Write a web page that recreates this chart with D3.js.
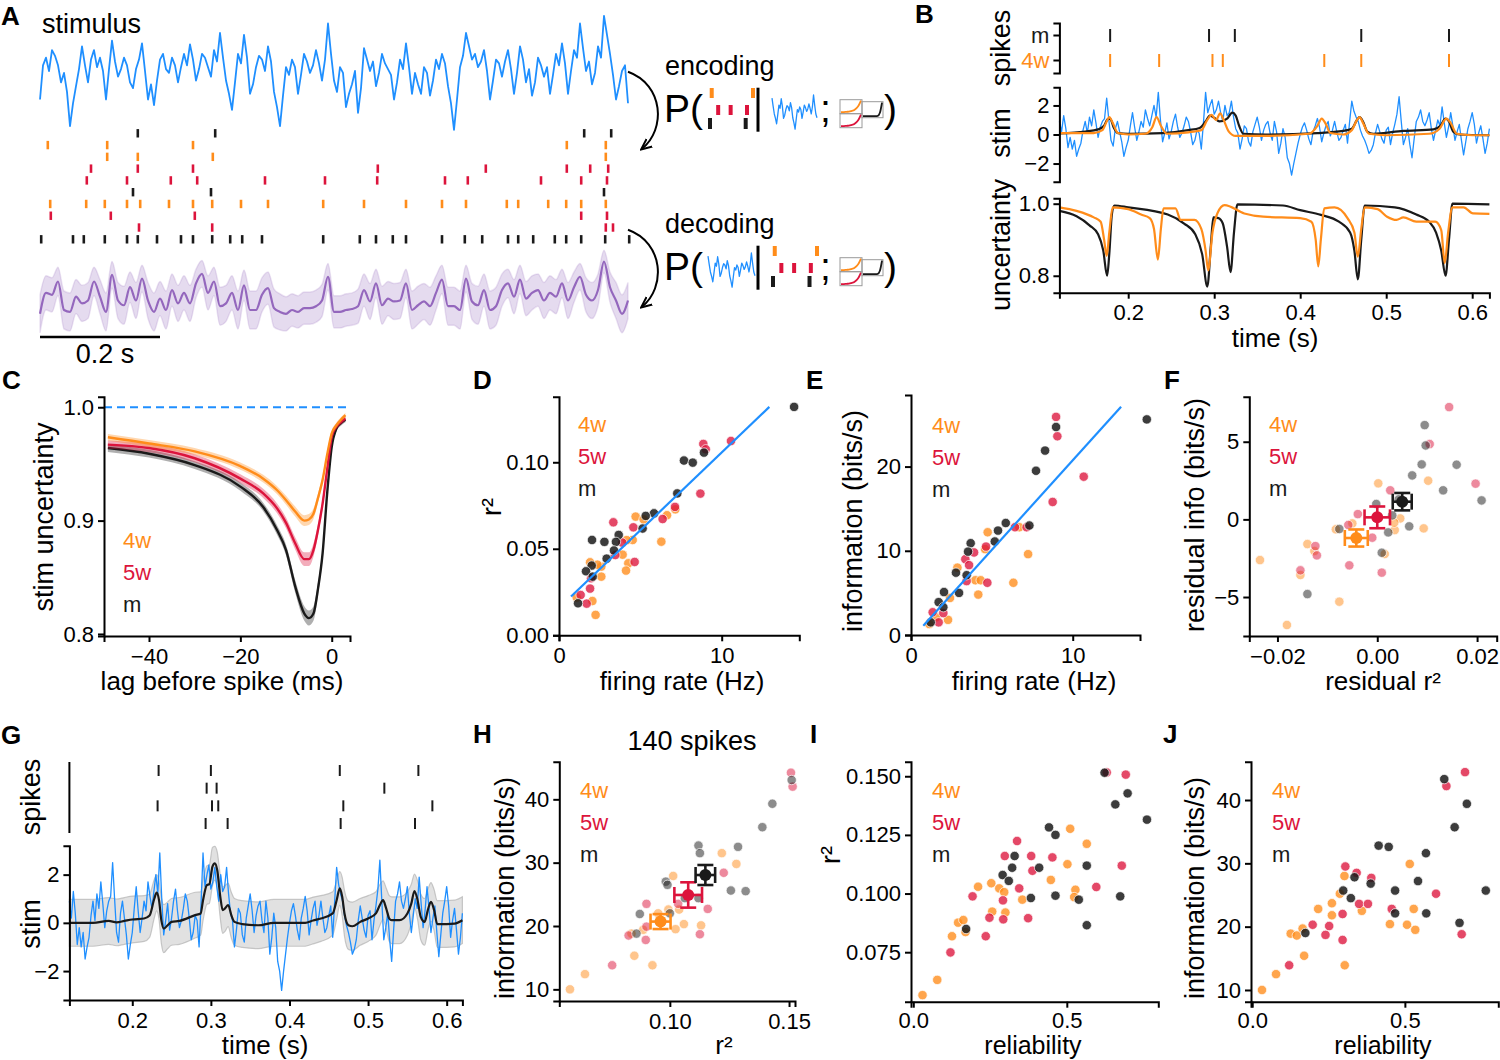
<!DOCTYPE html>
<html>
<head>
<meta charset="utf-8">
<script src="https://cdn.jsdelivr.net/npm/d3@7"></script>
<style>
  body { margin: 0; background: #fff; }
</style>
</head>
<body>
<script>
// ---------------- data ----------------

// A: stimulus, 5 ms steps from t = 0
const aStim = [
  -1.2, 0.6, 1.0, 0.3, 1.4, 1.1, 0.6, -0.3, 0.2, -0.8,
  -2.6, -1.4, -0.5, 0.4, 1.6, 0.6, -0.3, 0.9, 1.4, 0.5,
  1.0, 0.3, -1.2, 0.4, 1.9, 0.8, 0.0, 0.4, 1.0, 0.6,
  -0.3, -0.6, 0.4, 0.9, 1.75, 0.3, -1.2, -0.4, -1.5, -0.2,
  0.9, 1.2, 0.4, 0.2, 1.0, 0.6, -0.3, 0.5, 1.2, 0.6,
  1.7, 0.9, -0.2, 0.4, 1.2, 1.0, 0.5, 0.0, 1.4, 0.8,
  2.3, 1.0, -0.2, -0.9, -1.75, -0.3, 1.2, 0.7, 2.2, 1.0,
  -0.9, -0.4, 0.5, 1.1, 0.9, 0.3, 1.6, 0.8, -0.8, -1.6,
  -2.6, -1.0, 0.5, 0.1, 0.9, 0.5, -0.9, 0.1, 1.2, 0.8,
  0.2, 0.6, 1.4, 0.7, -0.2, 0.9, 2.8, 1.2, -0.2, -0.8,
  0.5, 0.2, -1.6, -0.9, -0.4, 0.3, -1.9, -0.6, 1.5, 0.9,
  0.3, 0.8, -0.5, 0.2, 1.2, 0.7, 0.4, 0.1, -1.2, -0.3,
  0.9, 0.4, 1.75, 0.5, -0.9, 0.2, -0.4, -0.9, 0.5, 0.2,
  -1.0, -0.2, 0.9, 0.4, 1.2, 0.7, -0.5, -1.4, -2.8, -1.2,
  0.5, 1.1, 2.3, 1.6, 0.9, 1.2, 0.5, 0.8, 1.4, 0.3,
  -1.2, -0.2, 0.9, 0.7, 0.0, 0.8, 1.4, 0.4, -0.9, 0.2,
  1.6, 0.9, -0.3, 0.4, -1.0, -0.3, 1.0, 0.6, 0.0, 0.5,
  -0.9, 0.1, 1.2, 0.6, 1.75, 0.7, -0.9, 0.3, 1.4, 1.0,
  2.8, 1.5, 0.3, 0.8, -0.4, 0.2, 1.6, 1.0, 3.2, 2.2,
  1.2, 0.1, -1.2, -0.5, 0.3, 0.6, -1.4
];
// A: decoded stimulus (mean, sd), 10 ms steps
const aDecode = [
  -0.2, 0.9, 0.8, 1.5, 0.0, -0.1, 0.7, 0.35, 0.5, 1.5,
  0.7, -0.1, 1.85, 0.5, 0.25, 1.2, 0.5, 1.65, 0.5, -0.1,
  0.6, 0.0, 1.05, 0.35, 0.9, 0.35, 1.4, 1.9, 0.9, 1.5,
  0.2, 0.35, 0.9, 0.0, 1.3, 0.0, 0.0, 0.8, 1.15, 0.1,
  -0.1, -0.2, 0.0, -0.1, 0.1, 0.1, 0.2, 0.5, 1.75, -0.1,
  -0.1, 0.0, 0.05, 0.2, 1.05, 0.45, 1.4, 0.25, 0.6, 0.45,
  0.5, 1.4, 0.0, 0.25, 0.45, 0.2, 0.9, 1.6, 0.2, 0.2,
  0.0, 1.65, 0.45, 0.25, 1.05, 0.0, 0.2, 1.05, 1.4, 0.7,
  1.6, 0.6, 0.9, 1.05, 0.5, 0.9, 0.7, 1.4, 0.5, 1.2,
  1.75, 0.8, 0.5, 1.05, 2.55, 1.2, 0.5, -0.2, 0.5
];
const aDecodeSd = [
  1.0, 0.9, 0.9, 0.75, 1.0, 1.0, 0.9, 0.95, 0.95, 0.75,
  0.9, 1.0, 0.7, 0.95, 1.0, 0.8, 0.95, 0.7, 0.95, 1.0,
  0.9, 1.0, 0.85, 0.95, 0.9, 0.95, 0.75, 0.7, 0.9, 0.75,
  1.0, 0.95, 0.9, 1.0, 0.8, 1.0, 1.0, 0.9, 0.85, 1.0,
  0.95, 0.9, 0.85, 0.85, 0.85, 0.85, 0.85, 0.85, 0.7, 0.85,
  0.85, 0.85, 0.85, 0.9, 0.85, 0.95, 0.75, 1.0, 0.9, 0.95,
  0.95, 0.75, 1.0, 1.0, 0.95, 1.0, 0.9, 0.75, 1.0, 1.0,
  1.0, 0.7, 0.95, 1.0, 0.85, 1.0, 1.0, 0.85, 0.75, 0.9,
  0.75, 0.9, 0.9, 0.85, 0.95, 0.9, 0.9, 0.75, 0.95, 0.8,
  0.7, 0.9, 0.95, 0.85, 0.6, 0.8, 0.95, 1.0, 0.95
];
// A: spike raster, one row per cell (seconds)
const aRowGroup = ["m", "4w", "4w", "5w", "5w", "m", "4w", "5w", "5w", "m"];
const aSpikes = [
  [0.163, 0.292, 0.907, 0.952],
  [0.013, 0.112, 0.255, 0.878, 0.943],
  [0.112, 0.163, 0.288, 0.943],
  [0.085, 0.163, 0.255, 0.563, 0.743, 0.878, 0.917, 0.947],
  [0.078, 0.145, 0.218, 0.262, 0.375, 0.475, 0.562, 0.675, 0.713, 0.835, 0.902, 0.945],
  [0.155, 0.285, 0.940],
  [0.017, 0.077, 0.108, 0.145, 0.167, 0.215, 0.255, 0.287, 0.335, 0.380, 0.472, 0.540, 0.610, 0.670, 0.710, 0.778, 0.797, 0.847, 0.877, 0.902, 0.943],
  [0.018, 0.118, 0.258, 0.902, 0.945],
  [0.165, 0.287, 0.943, 0.955],
  [0.002, 0.055, 0.073, 0.108, 0.145, 0.163, 0.195, 0.235, 0.255, 0.287, 0.317, 0.337, 0.370, 0.472, 0.533, 0.560, 0.588, 0.610, 0.670, 0.708, 0.737, 0.780, 0.797, 0.822, 0.858, 0.877, 0.902, 0.942, 0.982]
];
// schematic icons
const iconRaster = [[0.04, 1.0], [0.19, 0.48, 0.86], [0.0, 0.83]];
const iconRowGroup = ["4w", "5w", "m"];
const iconKernel = [0, 0.01, 0.02, 0.04, 0.07, 0.12, 0.2, 0.35, 0.6, 1];
const iconKernelM = [0, 0, 0, 0, 0, 0, 0, 0.02, 0.25, 1];

// B & G: stimulus, 2.5 ms steps from t = 0.12 s
const bgStim = [
  0.9, 0.2, 1.3, 0.4, -0.9, -0.2, -1.0, -0.4, -1.5, -1.0,
  -0.6, 0.3, 0.9, 0.1, 1.2, 0.6, 1.7, 0.8, -0.2, 0.5,
  0.9, 1.1, 2.5, 1.0, -0.4, -0.8, 0.4, 0.9, 0.2, -0.5,
  -1.5, -0.9, -0.4, 0.6, 1.5, 0.5, -0.4, 0.2, 0.9, 0.5,
  1.7, 1.1, 0.6, 1.3, 2.0, 1.2, 2.9, 1.0, -0.5, 0.1,
  0.8, -0.3, 0.2, 0.9, 1.4, 0.5, -0.2, 0.1, 0.6, 1.2,
  0.9, 0.2, -0.7, -0.4, 0.3, 0.1, -1.0, 0.8, 2.9, 1.5,
  2.0, 2.4, 1.4, 1.7, 2.3, 1.5, 0.9, 2.0, 1.3, 1.5,
  2.3, 1.2, 0.4, 0.1, -1.0, -0.3, 0.6, 0.4, -0.5, -0.8,
  0.2, 0.7, 1.2, 0.5, -0.4, 0.3, 0.7, 0.9, 0.1, -0.4,
  0.9, 0.2, -1.3, -0.6, 0.4, -0.2, -1.6, -2.0, -2.8, -2.0,
  -1.3, -0.6, 0.0, 0.5, 0.8, 0.3, -0.3, -0.7, 0.2, 0.6,
  1.1, 0.5, -0.5, 0.1, 0.6, 0.9, -0.1, 0.3, 0.9, 0.2,
  -0.4, -0.2, 0.3, 0.7, -0.6, 0.9, 2.3, 1.6, 1.2, 0.9,
  0.3, -0.1, -0.4, -0.8, -1.3, -1.1, -0.7, 0.1, 0.7, 0.2,
  -0.3, -0.6, 0.3, 0.5, -0.7, 0.1, 0.7, 1.4, 2.6, 0.9,
  -0.7, -0.2, 0.4, -0.7, -1.6, -0.3, 0.9, 1.2, 1.7, 0.9,
  0.6, 1.0, 1.5, 0.4, -0.4, 0.3, 1.0, 0.6, 1.9, 0.8,
  -0.2, 0.5, 1.5, 0.6, -0.4, 0.2, 0.7, -0.4, -1.4, -0.5,
  0.4, 0.9, 1.5, 0.7, -0.6, 0.1, 0.6, -0.3, -1.3, -0.6,
  0.4
];

// B
const bSpikesM = [0.179, 0.294, 0.324, 0.471, 0.573];
const bSpikes4w = [0.179, 0.236, 0.298, 0.310, 0.428, 0.471, 0.573];
const bDecM = [[0.12,0.08],[0.15,0.2],[0.165,0.35],[0.172,0.6],[0.176,1.05],[0.179,1.1],[0.183,0.5],[0.188,0.1],[0.2,0.05],[0.24,0.1],[0.27,0.3],[0.283,0.45],[0.29,0.9],[0.295,1.3],[0.3,1.15],[0.306,0.9],[0.315,1.1],[0.321,1.5],[0.325,1.3],[0.329,0.6],[0.334,0.05],[0.36,0.0],[0.42,0.1],[0.45,0.25],[0.46,0.4],[0.466,1.0],[0.469,1.2],[0.473,0.9],[0.478,0.2],[0.485,0.05],[0.52,0.25],[0.555,0.35],[0.563,0.6],[0.569,1.1],[0.573,0.9],[0.578,0.2],[0.585,0.0],[0.62,-0.05]];
const bDec4w = [[0.12,0.1],[0.16,0.1],[0.17,0.3],[0.175,0.9],[0.178,1.2],[0.182,0.8],[0.188,0.1],[0.2,0.0],[0.22,0.05],[0.228,0.5],[0.233,1.2],[0.238,0.6],[0.245,0.05],[0.27,0.15],[0.285,0.3],[0.292,1.0],[0.297,1.35],[0.302,1.0],[0.307,1.45],[0.311,1.0],[0.317,0.2],[0.325,-0.1],[0.36,-0.1],[0.41,0.05],[0.42,0.6],[0.425,1.1],[0.43,0.7],[0.435,0.1],[0.45,0.0],[0.46,0.3],[0.466,1.0],[0.469,1.2],[0.473,0.8],[0.48,0.05],[0.5,-0.05],[0.55,0.05],[0.562,0.4],[0.57,1.1],[0.575,0.8],[0.582,0.05],[0.6,-0.05],[0.62,-0.05]];
const bUncM = [[0.12,0.98],[0.14,0.965],[0.155,0.94],[0.165,0.915],[0.171,0.87],[0.1755,0.80],[0.178,0.86],[0.181,0.97],[0.184,0.995],[0.2,0.99],[0.246,0.97],[0.265,0.945],[0.278,0.915],[0.286,0.86],[0.292,0.77],[0.296,0.88],[0.299,0.962],[0.305,0.96],[0.31,0.945],[0.315,0.88],[0.319,0.81],[0.323,0.92],[0.327,0.998],[0.38,0.995],[0.40,0.982],[0.424,0.969],[0.445,0.95],[0.458,0.92],[0.463,0.87],[0.467,0.79],[0.471,0.9],[0.475,0.995],[0.51,0.99],[0.535,0.97],[0.55,0.95],[0.558,0.92],[0.564,0.87],[0.569,0.80],[0.573,0.9],[0.577,1.0],[0.62,0.998]];
const bUnc4w = [[0.12,0.99],[0.14,0.98],[0.16,0.962],[0.168,0.95],[0.172,0.9],[0.175,0.855],[0.178,0.92],[0.182,0.99],[0.2,0.985],[0.215,0.97],[0.225,0.96],[0.23,0.93],[0.2345,0.845],[0.238,0.93],[0.241,0.987],[0.255,0.987],[0.261,0.955],[0.277,0.955],[0.285,0.93],[0.29,0.87],[0.293,0.815],[0.298,0.92],[0.304,0.975],[0.312,0.996],[0.335,0.973],[0.357,0.964],[0.4,0.96],[0.413,0.95],[0.418,0.9],[0.421,0.826],[0.424,0.9],[0.428,0.987],[0.44,0.99],[0.455,0.96],[0.463,0.92],[0.467,0.853],[0.471,0.93],[0.475,0.99],[0.49,0.985],[0.501,0.964],[0.512,0.955],[0.52,0.962],[0.535,0.95],[0.557,0.95],[0.564,0.927],[0.568,0.835],[0.572,0.92],[0.577,0.99],[0.59,0.99],[0.601,0.973],[0.62,0.972]];

// C: stimulus uncertainty vs lag
const cLag = [-49, -40, -30, -20, -15, -12, -10, -8, -6, -5, -4, -3, -2, -1, 0, 1, 2, 3];
const cUnc4w = [0.9735, 0.968, 0.961, 0.948, 0.937, 0.927, 0.918, 0.908, 0.900, 0.901, 0.906, 0.92, 0.936, 0.958, 0.977, 0.984, 0.989, 0.993];
const cUnc5w = [0.967, 0.964, 0.955, 0.937, 0.924, 0.911, 0.898, 0.88, 0.866, 0.866, 0.874, 0.892, 0.915, 0.945, 0.974, 0.983, 0.987, 0.99];
const cUncM = [0.964, 0.959, 0.949, 0.93, 0.912, 0.892, 0.874, 0.842, 0.818, 0.814, 0.818, 0.84, 0.871, 0.924, 0.965, 0.981, 0.986, 0.989];
const cSem4w = [0.0015, 0.0015, 0.0015, 0.0016, 0.0017, 0.0018, 0.002, 0.0022, 0.0024, 0.0024, 0.0023, 0.002, 0.0018, 0.0015, 0.0013, 0.0012, 0.0011, 0.001];
const cSem5w = [0.0018, 0.0018, 0.0018, 0.0019, 0.002, 0.0022, 0.0024, 0.0027, 0.003, 0.003, 0.0029, 0.0026, 0.0022, 0.0018, 0.0015, 0.0013, 0.0012, 0.0011];
const cSemM = [0.0017, 0.0017, 0.0017, 0.0018, 0.0019, 0.0021, 0.0024, 0.0028, 0.0032, 0.0033, 0.0032, 0.0028, 0.0023, 0.0018, 0.0015, 0.0013, 0.0012, 0.0011];

// D: firing rate vs r2
const d4w = [[4.71,0.0686],[5.2,0.067],[6.64,0.0694],[7.15,0.0728],[6.29,0.0541],[4.53,0.0551],[4.16,0.055],[3.91,0.0466],[4.26,0.0416],[4.12,0.0374],[2.6,0.0397],[2.36,0.0408],[1.91,0.0422],[2.6,0.0339],[2.05,0.0198],[2.25,0.0118],[1.09,0.0218]];
const d5w = [[8.87,0.1106],[9.02,0.1075],[10.57,0.1123],[8.69,0.0819],[7.13,0.0742],[6.37,0.0672],[4.57,0.0624],[3.34,0.0653],[3.89,0.0536],[4.65,0.0424],[1.97,0.033],[1.91,0.027],[1.33,0.0233],[1.7,0.0183],[3.46,0.0464]];
const dM = [[14.45,0.132],[7.68,0.101],[8.22,0.0998],[8.91,0.1056],[7.27,0.082],[5.84,0.0705],[5.33,0.069],[5.14,0.0617],[3.67,0.058],[3.5,0.054],[3.38,0.049],[2.79,0.054],[2.93,0.0443],[2.03,0.0551],[2.01,0.0403],[1.66,0.037],[1.17,0.0185],[2.07,0.0339]];
const dFit = [[0.74,0.0224],[12.93,0.132]];

// E: firing rate vs information
const e4w = [[4.74,12.2],[6.7,12.8],[7.24,9.6],[4.58,10.2],[2.87,8.0],[3.98,6.5],[4.31,6.5],[6.33,6.2],[4.16,4.8],[2.41,4.4],[2.29,1.8],[1.55,2.1],[1.13,1.3]];
const e5w = [[8.97,25.9],[9.05,23.6],[10.68,18.8],[8.76,15.8],[7.15,12.8],[6.43,12.8],[4.64,10.5],[3.9,9.8],[3.36,9.0],[3.59,8.3],[3.44,6.4],[4.72,6.2],[1.34,2.7],[2.0,2.6],[1.71,1.5]];
const eM = [[14.58,25.6],[8.97,24.7],[8.29,21.9],[7.73,19.5],[7.32,13.0],[5.86,13.3],[5.38,12.4],[5.18,11.1],[3.69,10.9],[3.53,9.9],[2.78,7.4],[3.44,7.1],[2.97,5.0],[2.04,5.1],[1.71,3.9],[2.0,3.3],[1.22,1.5]];
const eFit = [[0.76,1.1],[12.99,27.1]];

// F: residuals
const f4w = [[0.0002,2.32],[0.0102,2.49],[0.0093,-0.58],[0.0035,-0.69],[0.0046,0.06],[0.0034,-0.21],[-0.0083,-0.64],[-0.005,-0.26],[-0.014,-1.59],[-0.0126,-2.04],[0.0015,-2.23],[-0.0235,-2.62],[-0.0154,-3.58],[-0.0076,-5.3],[-0.0181,-6.8]];
const f5w = [[0.0144,7.23],[0.0105,4.85],[0.0197,2.3],[0.0026,1.87],[-0.0039,0.34],[-0.0058,-0.36],[-0.001,-1.18],[-0.0124,-1.72],[-0.0121,-2.32],[-0.0056,-2.96],[0.0009,-3.43],[-0.0154,-3.28]];
const fM = [[0.0095,6.07],[0.0097,4.76],[0.0089,3.54],[0.0159,3.52],[0.007,2.83],[0.0132,1.87],[0.0209,1.22],[0.0043,1.29],[-0.0002,0.99],[0.0022,-0.84],[0.0064,-0.45],[0.003,0.26],[0.0009,-2.15],[-0.0076,-0.62],[-0.014,-4.81]];
// group, mean x, mean y, err x, err y
const fMeans = [["4w",-0.0042,-1.2,0.0023,0.55],["5w",0.0,0.13,0.00255,0.7],["m",0.005,1.14,0.0019,0.56]];

// G: population decoding
const gSpikes = [[0.2335,0.300,0.464,0.564],[0.2946,0.3073,0.5207],[0.2322,0.3014,0.3094,0.4685,0.5818],[0.2933,0.3213,0.4651,0.5597]];
const gDecT = [0.12,0.15,0.17,0.18,0.19,0.2,0.215,0.222,0.228,0.231,0.234,0.237,0.24,0.245,0.25,0.26,0.28,0.287,0.29,0.295,0.298,0.302,0.305,0.308,0.312,0.315,0.318,0.322,0.326,0.33,0.34,0.36,0.38,0.4,0.42,0.43,0.44,0.455,0.46,0.464,0.467,0.47,0.475,0.48,0.49,0.5,0.51,0.515,0.519,0.523,0.527,0.53,0.54,0.55,0.555,0.559,0.563,0.567,0.572,0.576,0.58,0.584,0.588,0.6,0.61,0.62];
const gDecV = [0.0,0.0,0.08,0.02,0.08,0.14,0.18,0.3,1.0,1.25,0.94,0.1,-0.24,-0.1,0.04,0.08,0.32,0.39,0.94,1.57,1.6,2.33,2.47,2.2,1.08,0.53,0.6,0.74,0.32,0.04,-0.05,-0.1,0.0,0.0,0.0,0.1,0.18,0.39,0.94,1.43,1.1,0.39,-0.1,-0.14,0.04,0.18,0.39,0.74,0.94,0.6,0.18,0.11,0.11,0.39,0.8,1.32,0.94,0.25,0.04,0.53,0.87,0.53,-0.05,-0.05,-0.03,0.11];
const gDecSd = [0.97,0.97,0.97,0.97,0.97,0.97,0.95,0.9,0.8,0.75,0.8,0.95,1.0,0.97,0.97,0.97,0.95,0.9,0.85,0.8,0.8,0.8,0.7,0.75,0.9,0.97,0.95,0.9,0.95,0.97,0.97,0.97,0.97,0.97,0.97,0.97,0.95,0.9,0.8,0.7,0.8,0.95,1.0,1.0,0.97,0.95,0.9,0.85,0.8,0.85,0.95,0.97,0.97,0.9,0.8,0.7,0.8,0.95,0.97,0.85,0.8,0.85,0.97,0.97,0.97,0.97];

// H: 140 spikes, r2 vs information
const h4w = [[0.1218,31.5],[0.1279,29.8],[0.1014,27.9],[0.0994,22.6],[0.1039,22.6],[0.1059,20.3],[0.1131,20.1],[0.1024,19.5],[0.0888,19.4],[0.0839,18.8],[0.0851,15.3],[0.0927,13.8],[0.0644,12.4],[0.0581,10.0],[0.0951,22.0]];
const h5w = [[0.1508,44.2],[0.1515,42.0],[0.1226,28.4],[0.1159,22.7],[0.1126,18.7],[0.0902,23.5],[0.0902,19.9],[0.0899,17.8],[0.0827,18.5],[0.0758,13.8],[0.1035,23.5]];
const hM = [[0.1511,43.05],[0.143,39.3],[0.1388,35.6],[0.1286,32.5],[0.112,32.7],[0.1126,31.5],[0.0983,27.0],[0.099,26.5],[0.1,22.0],[0.0874,21.9],[0.086,18.8],[0.1256,25.6],[0.1318,25.5],[0.112,24.4],[0.1063,24.4]];
const hMeans = [["4w",0.0961,20.7,0.0042,1.18],["5w",0.1077,24.9,0.0058,2.0],["m",0.1149,28.05,0.0041,1.58]];

// I: reliability vs r2
const i4w = [[0.511,0.1276],[0.502,0.1125],[0.565,0.1212],[0.448,0.1058],[0.528,0.1016],[0.524,0.0985],[0.211,0.1029],[0.254,0.1044],[0.28,0.1022],[0.296,0.1006],[0.355,0.0974],[0.257,0.0923],[0.3,0.0919],[0.146,0.0876],[0.163,0.0887],[0.17,0.0836],[0.126,0.0818],[0.078,0.0632],[0.03,0.0567]];
const i5w = [[0.63,0.1516],[0.692,0.1507],[0.679,0.1119],[0.596,0.1028],[0.453,0.1154],[0.384,0.116],[0.388,0.1097],[0.338,0.1224],[0.298,0.116],[0.345,0.1022],[0.292,0.0971],[0.293,0.089],[0.374,0.0895],[0.248,0.0897],[0.236,0.0818],[0.193,0.0988],[0.121,0.0749]];
const iM = [[0.623,0.1515],[0.658,0.138],[0.698,0.1427],[0.761,0.1315],[0.442,0.1282],[0.463,0.125],[0.565,0.1119],[0.41,0.111],[0.322,0.111],[0.33,0.116],[0.291,0.1079],[0.311,0.1054],[0.383,0.0981],[0.463,0.0991],[0.539,0.0974],[0.565,0.0865],[0.674,0.0988],[0.172,0.0849]];

// J: reliability vs information
const j4w = [[0.302,28.0],[0.516,29.9],[0.287,25.2],[0.261,23.7],[0.216,22.8],[0.261,21.8],[0.359,22.5],[0.529,22.8],[0.451,20.4],[0.507,20.3],[0.534,19.5],[0.126,18.9],[0.146,18.6],[0.165,19.7],[0.17,15.4],[0.303,13.9],[0.078,12.5],[0.032,10.0]];
const j5w = [[0.697,44.4],[0.636,42.2],[0.305,29.5],[0.342,28.5],[0.39,27.7],[0.35,23.6],[0.379,23.6],[0.296,22.0],[0.457,22.8],[0.602,25.2],[0.198,20.3],[0.252,20.1],[0.24,18.7],[0.296,17.9],[0.686,18.8],[0.121,13.9]];
const jM = [[0.629,43.3],[0.703,39.4],[0.663,35.7],[0.414,32.8],[0.447,32.6],[0.569,31.6],[0.543,27.2],[0.335,27.8],[0.388,26.8],[0.298,25.7],[0.468,25.7],[0.765,25.7],[0.323,24.5],[0.468,22.1],[0.57,22.1],[0.679,20.6],[0.174,19.0]];

// ---------------- drawing ----------------
const FONT = "'Liberation Sans', Arial, Helvetica, sans-serif";
const C4 = "#ff8c1a", C5 = "#dc143c", CM = "#1a1a1a", BLUE = "#1f8fff", PURPLE = "#9467bd";
const groupColor = {"4w": C4, "5w": C5, "m": CM};
const groups = ["4w", "5w", "m"];

const svg = d3.select("body").append("svg")
  .attr("width", 1500).attr("height", 1060)
  .style("background", "#fff");

svg.append("defs").append("marker")
  .attr("id", "arr").attr("viewBox", "0 0 10 10")
  .attr("refX", 8).attr("refY", 5)
  .attr("markerUnits", "userSpaceOnUse")
  .attr("markerWidth", 12).attr("markerHeight", 12)
  .attr("orient", "auto")
  .append("path").attr("d", "M0,1 L9,5 L0,9")
  .attr("fill", "none").attr("stroke", "#000").attr("stroke-width", 1.6);

function txt(x, y, s, size, o = {}) {
  const t = svg.append("text").attr("x", x).attr("y", y).text(s)
    .attr("font-size", size).attr("font-family", FONT).attr("fill", o.fill || "#000");
  if (o.anchor) t.attr("text-anchor", o.anchor);
  if (o.weight) t.attr("font-weight", o.weight);
  if (o.rot) t.attr("transform", `rotate(-90,${x},${y})`).attr("dominant-baseline", "central");
  return t;
}
function letter(x, y, s) { txt(x, y, s, 26, {weight: "bold"}); }
function ylabel(x, y, s) { txt(x, y, s, 27, {anchor: "middle", rot: true}); }
function xlabel(x, y, s, size = 26) { txt(x, y, s, size, {anchor: "middle"}); }

function styleAxis(g) {
  g.attr("font-size", 22).attr("font-family", FONT);
  g.select(".domain").attr("stroke-width", 2).attr("stroke", "#000");
  g.selectAll(".tick line").attr("stroke-width", 2).attr("stroke", "#000");
  g.selectAll(".tick text").attr("fill", "#000");
  return g;
}
function yAxis(x, scale, ticks, fmt) {
  const g = svg.append("g").attr("transform", `translate(${x},0)`)
    .call(d3.axisLeft(scale).tickValues(ticks).tickFormat(fmt).tickSizeOuter(0).tickSize(6).tickPadding(4));
  return styleAxis(g);
}
function xAxis(y, scale, ticks, fmt, pad = 6) {
  const g = svg.append("g").attr("transform", `translate(0,${y})`)
    .call(d3.axisBottom(scale).tickValues(ticks).tickFormat(fmt).tickSizeOuter(0).tickSize(6).tickPadding(pad));
  return styleAxis(g);
}
function legend(x, y0) {
  groups.forEach((k, i) => txt(x, y0 + i * 32, k, 22, {fill: groupColor[k]}));
}
function dots(xs, ys, data, color, op) {
  svg.append("g").selectAll("circle").data(data).join("circle")
    .attr("cx", d => xs(d[0])).attr("cy", d => ys(d[1])).attr("r", 4.7)
    .attr("fill", color).attr("fill-opacity", op)
    .attr("stroke", "#fff").attr("stroke-width", 0.7);
}
function fitLine(xs, ys, data) {
  svg.append("path").datum(data)
    .attr("d", d3.line().x(d => xs(d[0])).y(d => ys(d[1])))
    .attr("stroke", BLUE).attr("stroke-width", 2.2).attr("fill", "none");
}
function meanMark(xs, ys, m) {
  const [k, mx, my, ex, ey] = m, color = groupColor[k], cap = 8;
  const cx = xs(mx), cy = ys(my);
  const x0 = xs(mx - ex), x1 = xs(mx + ex), y0 = ys(my - ey), y1 = ys(my + ey);
  const g = svg.append("g").attr("stroke", color).attr("stroke-width", 2.6).attr("fill", "none");
  const seg = (a, b, c, d) => g.append("line").attr("x1", a).attr("y1", b).attr("x2", c).attr("y2", d);
  seg(x0, cy, x1, cy); seg(x0, cy - cap, x0, cy + cap); seg(x1, cy - cap, x1, cy + cap);
  seg(cx, y0, cx, y1); seg(cx - cap, y0, cx + cap, y0); seg(cx - cap, y1, cx + cap, y1);
  svg.append("circle").attr("cx", cx).attr("cy", cy).attr("r", 6).attr("fill", color);
}
function spikeTicks(xs, yc, times, half, color, w) {
  svg.append("g").selectAll("line").data(times).join("line")
    .attr("x1", d => xs(d)).attr("x2", d => xs(d))
    .attr("y1", yc - half).attr("y2", yc + half)
    .attr("stroke", color).attr("stroke-width", w);
}
function pathLine(data, xf, yf, color, w, curve) {
  const ln = d3.line().x(xf).y(yf);
  if (curve) ln.curve(curve);
  return svg.append("path").datum(data).attr("d", ln)
    .attr("fill", "none").attr("stroke", color).attr("stroke-width", w)
    .attr("stroke-linejoin", "round");
}

// ===== Panel A =====
letter(1, 25, "A");
txt(42, 33, "stimulus", 27);
const aX = d3.scaleLinear().domain([0, 0.98]).range([40, 628]);
const aStimY = d3.scaleLinear().domain([-3, 3]).range([133.7, 19.7]);
const aDecY = d3.scaleLinear().domain([-3, 3]).range([367, 253]);
const aRowY = d3.scalePoint().domain(d3.range(10)).range([133.3, 239.3]);

pathLine(aStim, (d, i) => aX(i * 0.005), d => aStimY(d), BLUE, 1.8);
aSpikes.forEach((row, r) => spikeTicks(aX, aRowY(r), row, 4.2, groupColor[aRowGroup[r]], 2.6));

svg.append("path").datum(aDecode)
  .attr("d", d3.area().curve(d3.curveMonotoneX)
    .x((d, i) => aX(i * 0.01))
    .y0((d, i) => aDecY(d - aDecodeSd[i]))
    .y1((d, i) => aDecY(d + aDecodeSd[i])))
  .attr("fill", PURPLE).attr("fill-opacity", 0.24)
  .attr("stroke", PURPLE).attr("stroke-opacity", 0.18).attr("stroke-width", 1.5);
pathLine(aDecode, (d, i) => aX(i * 0.01), d => aDecY(d), PURPLE, 2.2, d3.curveMonotoneX);

// scale bar
svg.append("line").attr("x1", aX(0)).attr("x2", aX(0.2)).attr("y1", 337).attr("y2", 337)
  .attr("stroke", "#000").attr("stroke-width", 2.5);
txt(105, 363, "0.2 s", 27, {anchor: "middle"});

// encoding / decoding schematic
function schematic(base, label, stimX, rasterX) {
  txt(665, base - 47, label, 27);
  svg.append("path")
    .attr("d", `M628,${base - 50} C664,${base - 37} 666,${base + 8} 642,${base + 27}`)
    .attr("fill", "none").attr("stroke", "#000").attr("stroke-width", 2)
    .attr("marker-end", "url(#arr)");
  txt(664, base, "P(", 39);
  txt(820, base, ";", 39);
  txt(884, base, ")", 39);
  svg.append("line").attr("x1", 758).attr("x2", 758).attr("y1", base - 34).attr("y2", base + 10)
    .attr("stroke", "#000").attr("stroke-width", 3);
  // raster icon
  const rx = d3.scaleLinear().domain([0, 1]).range(rasterX);
  const ry = [base - 28.7, base - 11.7, base + 1.8];
  iconRaster.forEach((row, r) => spikeTicks(rx, ry[r], row, r === 2 ? 5.5 : 5, groupColor[iconRowGroup[r]], 4));
  // stimulus icon
  const seg = aStim.slice(60, 100);
  const sx = d3.scaleLinear().domain([0, seg.length - 1]).range(stimX);
  const sy = d3.scaleLinear().domain([-3, 3]).range([base + 10, base - 28]);
  pathLine(seg, (d, i) => sx(i), d => sy(d), BLUE, 1.3);
  // filter icon
  const x0 = 840, y0 = base - 22;
  const boxes = [[x0, y0, 22, 14, C4, iconKernel], [x0, y0 + 14, 22, 14, C5, iconKernel], [x0 + 22, y0 + 2, 21, 16, CM, iconKernelM]];
  boxes.forEach(([bx, by, bw, bh, col, ker]) => {
    svg.append("rect").attr("x", bx).attr("y", by).attr("width", bw).attr("height", bh)
      .attr("fill", "none").attr("stroke", "#9a9a9a").attr("stroke-width", 1);
    const kx = d3.scaleLinear().domain([0, ker.length - 1]).range([bx + 1, bx + bw - 1]);
    const ky = d3.scaleLinear().domain([0, 1]).range([by + bh - 1.5, by + 1]);
    pathLine(ker, (d, i) => kx(i), d => ky(d), col, 1.8, d3.curveMonotoneX);
  });
}
schematic(121.7, "encoding", [772, 817], [710, 753]);
schematic(279.7, "decoding", [708, 755], [773, 817]);

// ===== Panel B =====
letter(915, 23, "B");
const bX = d3.scaleLinear().domain([0.12, 0.62]).range([1059.4, 1489.4]);
const bStimY = d3.scaleLinear().domain([-3.25, 3.25]).range([181.7, 87.3]);
const bUncY = d3.scaleLinear().domain([0.753, 1.015]).range([292.7, 198.3]);
const bRow = d3.scaleBand().domain(["m", "4w"]).range([23, 73]);

const gbr = yAxis(1059.4, bRow, ["m", "4w"], d => d);
gbr.selectAll(".tick text").attr("fill", d => groupColor[d]);
spikeTicks(bX, bRow("m") + bRow.bandwidth() / 2, bSpikesM, 6.5, CM, 2);
spikeTicks(bX, bRow("4w") + bRow.bandwidth() / 2, bSpikes4w, 6.5, C4, 2);

pathLine(bgStim, (d, i) => bX(0.12 + i * 0.0025), d => bStimY(d), BLUE, 1.3);
pathLine(bDecM, d => bX(d[0]), d => bStimY(d[1]), CM, 2.2, d3.curveMonotoneX);
pathLine(bDec4w, d => bX(d[0]), d => bStimY(d[1]), C4, 2.2, d3.curveMonotoneX);
yAxis(1059.4, bStimY, [-2, 0, 2], d3.format("d"));

pathLine(bUncM, d => bX(d[0]), d => bUncY(d[1]), CM, 2.2, d3.curveMonotoneX);
pathLine(bUnc4w, d => bX(d[0]), d => bUncY(d[1]), C4, 2.2, d3.curveMonotoneX);
yAxis(1059.4, bUncY, [0.8, 1.0], d3.format(".1f"));
xAxis(292.7, bX, [0.2, 0.3, 0.4, 0.5, 0.6], d3.format(".1f"));
ylabel(1001, 48, "spikes");
ylabel(1001, 133, "stim");
ylabel(1001, 245, "uncertainty");
xlabel(1275, 347, "time (s)");

// ===== Panel C =====
letter(2, 389, "C");
const cX = d3.scaleLinear().domain([-49.85, 4.0]).range([104, 350]);
const cY = d3.scaleLinear().domain([0.7982, 1.0093]).range([636, 396.7]);
svg.append("line").attr("x1", 104).attr("x2", 350).attr("y1", cY(1)).attr("y2", cY(1))
  .attr("stroke", BLUE).attr("stroke-width", 2).attr("stroke-dasharray", "8,5");
[[cUncM, cSemM, CM], [cUnc5w, cSem5w, C5], [cUnc4w, cSem4w, C4]].forEach(([vals, sem, col]) => {
  svg.append("path").datum(vals)
    .attr("d", d3.area().curve(d3.curveMonotoneX)
      .x((d, i) => cX(cLag[i]))
      .y0((d, i) => cY(d - 2 * sem[i]))
      .y1((d, i) => cY(d + 2 * sem[i])))
    .attr("fill", col).attr("fill-opacity", 0.35);
  pathLine(vals, (d, i) => cX(cLag[i]), d => cY(d), col, 2.4, d3.curveMonotoneX);
});
yAxis(104, cY, [0.8, 0.9, 1.0], d3.format(".1f"));
xAxis(636, cX, [-40, -20, 0], d3.format("d"));
legend(123, 548);
ylabel(44, 517, "stim uncertainty");
xlabel(222, 690, "lag before spike (ms)");

// ===== Panel D =====
letter(473, 389, "D");
const dX = d3.scaleLinear().domain([0, 14.77]).range([559, 799.3]);
const dY = d3.scaleLinear().domain([0, 0.1379]).range([635.3, 396.7]);
dots(dX, dY, d4w, C4, 0.78);
dots(dX, dY, d5w, C5, 0.78);
dots(dX, dY, dM, CM, 0.85);
fitLine(dX, dY, dFit);
yAxis(559, dY, [0, 0.05, 0.10], d3.format(".2f"));
xAxis(635.3, dX, [0, 10], d3.format("d"));
legend(578, 432);
ylabel(492, 507, "r²");
xlabel(682, 690, "firing rate (Hz)");

// ===== Panel E =====
letter(806, 389, "E");
const eX = d3.scaleLinear().domain([0, 14.16]).range([911, 1140]);
const eY = d3.scaleLinear().domain([0, 28.5]).range([635, 395]);
dots(eX, eY, e4w, C4, 0.78);
dots(eX, eY, e5w, C5, 0.78);
dots(eX, eY, eM, CM, 0.85);
fitLine(eX, eY, eFit);
yAxis(911, eY, [0, 10, 20], d3.format("d"));
xAxis(635, eX, [0, 10], d3.format("d"));
legend(932, 433);
ylabel(853, 521, "information (bits/s)");
xlabel(1034, 690, "firing rate (Hz)");

// ===== Panel F =====
letter(1164, 389, "F");
const fX = d3.scaleLinear().domain([-0.02564, 0.02393]).range([1249.3, 1496.7]);
const fY = d3.scaleLinear().domain([-7.51, 7.9]).range([636, 396.7]);
dots(fX, fY, f4w, C4, 0.5);
dots(fX, fY, f5w, C5, 0.5);
dots(fX, fY, fM, CM, 0.5);
fMeans.forEach(m => meanMark(fX, fY, m));
yAxis(1249.3, fY, [-5, 0, 5], d3.format("d"));
xAxis(636, fX, [-0.02, 0, 0.02], d3.format(".2f"));
legend(1269, 432);
ylabel(1195, 515, "residual info (bits/s)");
xlabel(1383, 690, "residual r²");

// ===== Panel G =====
letter(1, 744, "G");
const gX = d3.scaleLinear().domain([0.12, 0.62]).range([69.4, 462.4]);
const gY = d3.scaleLinear().domain([-3.2, 3.2]).range([1000, 845.7]);
const gRowY = d3.scalePoint().domain(d3.range(4)).range([770.5, 823.5]);
svg.append("line").attr("x1", 69.4).attr("x2", 69.4).attr("y1", 762).attr("y2", 833)
  .attr("stroke", "#000").attr("stroke-width", 2);
gSpikes.forEach((row, r) => spikeTicks(gX, gRowY(r), row, 5.5, CM, 2));
svg.append("path").datum(gDecV)
  .attr("d", d3.area().curve(d3.curveMonotoneX)
    .x((d, i) => gX(gDecT[i]))
    .y0((d, i) => gY(d - gDecSd[i]))
    .y1((d, i) => gY(d + gDecSd[i])))
  .attr("fill", "#bdbdbd").attr("fill-opacity", 0.45)
  .attr("stroke", "#a8a8a8").attr("stroke-opacity", 0.6).attr("stroke-width", 1.2);
pathLine(bgStim, (d, i) => gX(0.12 + i * 0.0025), d => gY(d), BLUE, 1.3);
pathLine(gDecV, (d, i) => gX(gDecT[i]), d => gY(d), CM, 2.2, d3.curveMonotoneX);
yAxis(69.4, gY, [-2, 0, 2], d3.format("d"));
xAxis(1000, gX, [0.2, 0.3, 0.4, 0.5, 0.6], d3.format(".1f"));
ylabel(31, 797, "spikes");
ylabel(31, 924, "stim");
xlabel(265, 1054, "time (s)");

// ===== Panel H =====
letter(473, 743, "H");
txt(692, 750, "140 spikes", 27, {anchor: "middle"});
const hX = d3.scaleLinear().domain([0.05363, 0.1525]).range([559.3, 795]);
const hY = d3.scaleLinear().domain([8.16, 45.94]).range([1001, 761.7]);
dots(hX, hY, h4w, C4, 0.5);
dots(hX, hY, h5w, C5, 0.5);
dots(hX, hY, hM, CM, 0.5);
hMeans.forEach(m => meanMark(hX, hY, m));
yAxis(559.3, hY, [10, 20, 30, 40], d3.format("d"));
xAxis(1001, hX, [0.10, 0.15], d3.format(".2f"));
legend(580, 798);
ylabel(505, 888, "information (bits/s)");
xlabel(724, 1054, "r²");

// ===== Panel I =====
letter(810, 743, "I");
const iX = d3.scaleLinear().domain([-0.0075, 0.798]).range([911, 1158.3]);
const iY = d3.scaleLinear().domain([0.0539, 0.1562]).range([1001.7, 761.7]);
dots(iX, iY, i4w, C4, 0.78);
dots(iX, iY, i5w, C5, 0.78);
dots(iX, iY, iM, CM, 0.85);
yAxis(911, iY, [0.075, 0.100, 0.125, 0.150], d3.format(".3f"));
xAxis(1001.7, iX, [0, 0.5], d3.format(".1f"), 5);
legend(932, 798);
ylabel(831, 855, "r²");
xlabel(1033, 1054, "reliability", 25);

// ===== Panel J =====
letter(1163, 743, "J");
const jX = d3.scaleLinear().domain([-0.004, 0.806]).range([1251, 1498.3]);
const jY = d3.scaleLinear().domain([8.15, 46.05]).range([1001.7, 761.7]);
dots(jX, jY, j4w, C4, 0.78);
dots(jX, jY, j5w, C5, 0.78);
dots(jX, jY, jM, CM, 0.85);
yAxis(1251, jY, [10, 20, 30, 40], d3.format("d"));
xAxis(1001.7, jX, [0, 0.5], d3.format(".1f"), 5);
legend(1272, 798);
ylabel(1195, 888, "information (bits/s)");
xlabel(1383, 1054, "reliability", 25);
</script>
</body>
</html>
